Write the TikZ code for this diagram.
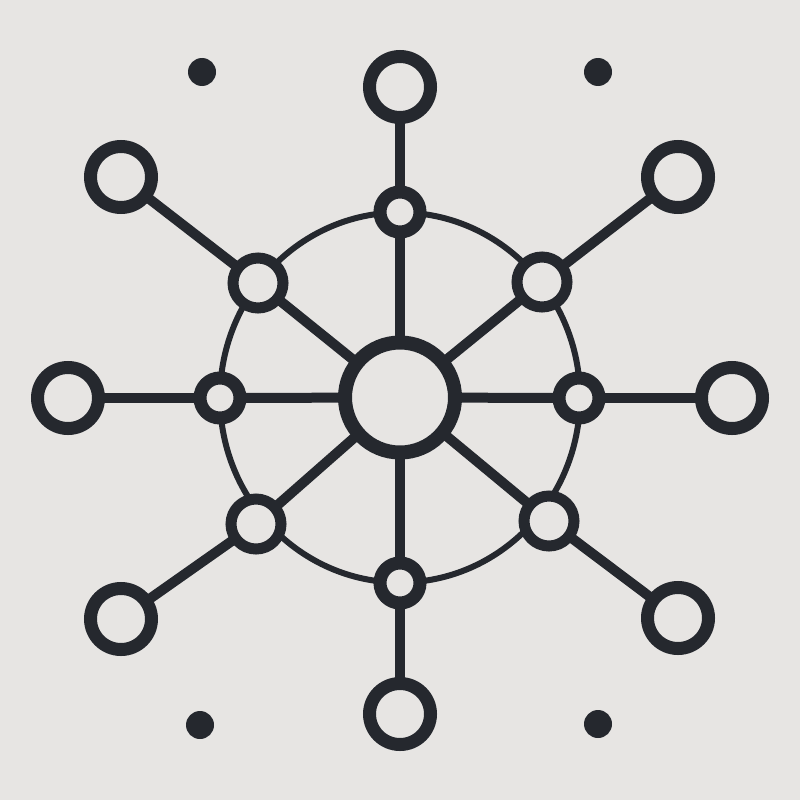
\documentclass[tikz,border=0pt]{standalone}
\definecolor{ink}{HTML}{25282E}
\definecolor{paper}{HTML}{E7E5E3}
\pgfdeclarelayer{back}
\pgfsetlayers{back,main}
\begin{document}
\begin{tikzpicture}[x=1pt,y=-1pt,
  hub/.style={circle,draw=ink,fill=paper,line width=14pt,inner sep=0pt,minimum size=110pt},
  outernode/.style={circle,draw=ink,fill=paper,line width=13pt,inner sep=0pt,minimum size=61pt},
  innernode/.style={circle,draw=ink,fill=paper,line width=13pt,inner sep=0pt,minimum size=40pt},
  diagnode/.style={circle,draw=ink,fill=paper,line width=11pt,inner sep=0pt,minimum size=50pt},
  dotnode/.style={circle,fill=ink,inner sep=0pt,minimum size=28pt},
  spoke/.style={draw=ink,line width=10pt},
  ringline/.style={draw=ink,line width=6pt}]
\useasboundingbox (0,0) rectangle (800,800);
% hub
\node[hub] (c) at (400,397.5) {};
% inner ring nodes
\node[innernode] (it) at (400,212) {};
\node[innernode] (ir) at (579,398) {};
\node[innernode] (ib) at (400,583) {};
\node[innernode] (il) at (220,398) {};
\node[diagnode] (itl) at (258,283) {};
\node[diagnode] (itr) at (542,282) {};
\node[diagnode] (ibl) at (256,524) {};
\node[diagnode] (ibr) at (549,521) {};
% outer nodes
\node[outernode] (ot) at (400,87) {};
\node[outernode] (or) at (732,398) {};
\node[outernode] (ob) at (400,714) {};
\node[outernode] (ol) at (68,398) {};
\node[outernode] (otl) at (121,177) {};
\node[outernode] (otr) at (678,177) {};
\node[outernode] (obl) at (121,619) {};
\node[outernode] (obr) at (678,618) {};
% dots
\node[dotnode] (d1) at (202,72) {};
\node[dotnode] (d2) at (598,72) {};
\node[dotnode] (d3) at (200,725) {};
\node[dotnode] (d4) at (598,724) {};
\begin{pgfonlayer}{back}
  \fill[paper] (0,0) rectangle (800,800);
  \draw[ringline] (c.center) ellipse [x radius=180, y radius=185];
  \foreach \i/\o in {it/ot,ir/or,ib/ob,il/ol,itl/otl,itr/otr,ibl/obl,ibr/obr}{
    \draw[spoke] (c.center) -- (\i.center);
    \draw[spoke] (\i.center) -- (\o.center);
  }
\end{pgfonlayer}
\end{tikzpicture}
\end{document}
